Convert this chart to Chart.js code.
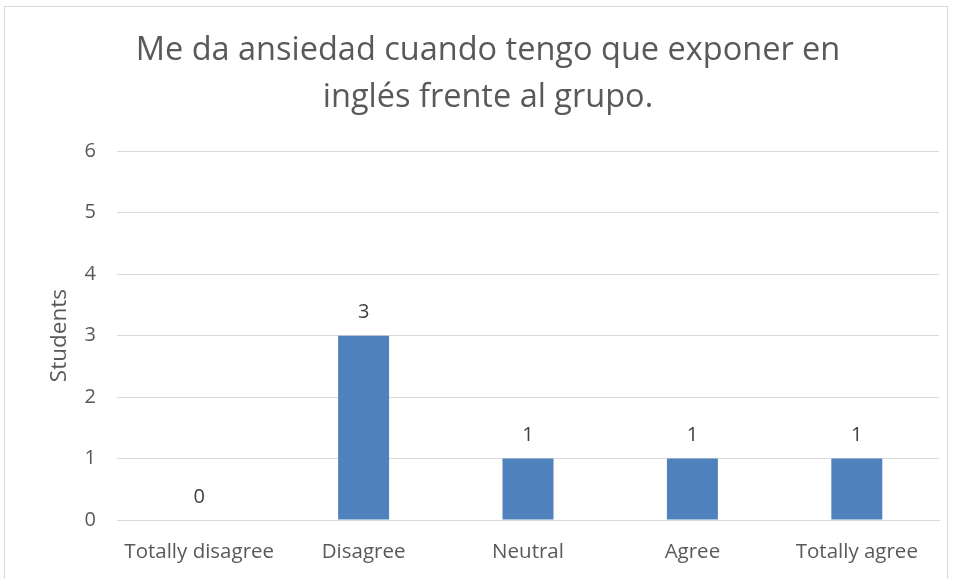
<!DOCTYPE html>
<html>
<head>
<meta charset="utf-8">
<script src="https://cdn.jsdelivr.net/npm/chart.js@4.4.1/dist/chart.umd.min.js"></script>
<style>
  html, body { margin: 0; padding: 0; background: #ffffff; overflow: hidden; }
  #wrap { position: relative; width: 958px; height: 579px; }
  #frame { position: absolute; left: 4px; top: 6px; width: 944px; height: 600px; border: 1px solid #d9d9d9; box-sizing: border-box; }
  canvas { position: absolute; left: 0; top: 0; }
</style>
</head>
<body>
<div id="wrap">
  <div id="frame"></div>
  <canvas id="c" width="958" height="579"></canvas>
</div>
<script>
const titleLines = ['Me da ansiedad cuando tengo que exponer en', 'inglés frente al grupo.'];
const categories = ['Totally disagree', 'Disagree', 'Neutral', 'Agree', 'Totally agree'];
const students = [0, 3, 1, 1, 1];
const yTicks = [0, 1, 2, 3, 4, 5, 6];
const yAxisTitle = 'Students';

const FONT = "'Open Sans', 'Noto Sans', sans-serif";

const valueLabels = {
  id: 'valueLabels',
  afterDatasetsDraw(chart) {
    const ctx = chart.ctx;
    const meta = chart.getDatasetMeta(0);
    ctx.save();
    ctx.font = '20px ' + FONT;
    ctx.fillStyle = '#404040';
    ctx.textAlign = 'center';
    ctx.textBaseline = 'middle';
    meta.data.forEach((bar, i) => {
      ctx.fillText(String(chart.data.datasets[0].data[i]), bar.x, bar.y - 23);
    });
    ctx.restore();
  }
};

new Chart(document.getElementById('c'), {
  type: 'bar',
  data: {
    labels: categories,
    datasets: [{
      label: yAxisTitle,
      data: students,
      backgroundColor: '#4f81bd',
      borderWidth: 0,
      barPercentage: 0.62,
      categoryPercentage: 0.5
    }]
  },
  options: {
    responsive: false,
    animation: false,
    layout: { padding: { left: 37, right: 19, top: 0, bottom: 0 } },
    plugins: {
      legend: { display: false },
      tooltip: { enabled: false },
      title: {
        display: true,
        text: titleLines,
        color: '#595959',
        font: { family: FONT, size: 32.5, weight: 'normal', lineHeight: 1.45 },
        padding: { top: 27, bottom: 30 }
      }
    },
    scales: {
      x: {
        grid: { display: false, drawTicks: false },
        border: { display: true, color: '#d9d9d9', width: 1 },
        ticks: { color: '#595959', font: { family: FONT, size: 20.5 }, padding: 20, maxRotation: 0 },
        afterFit(scale) { scale.height = 59; }
      },
      y: {
        min: 0,
        max: 6,
        afterBuildTicks(scale) { scale.ticks = yTicks.map(v => ({ value: v })); },
        grid: { color: '#d9d9d9', lineWidth: 1, drawTicks: false },
        border: { display: false },
        ticks: { color: '#595959', font: { family: FONT, size: 20 }, padding: 21 },
        title: {
          display: true,
          text: yAxisTitle,
          color: '#595959',
          font: { family: FONT, size: 22.5 },
          padding: { top: 9, bottom: 0 }
        },
        afterFit(scale) { scale.width = 80; }
      }
    }
  },
  plugins: [valueLabels]
});
</script>
</body>
</html>
